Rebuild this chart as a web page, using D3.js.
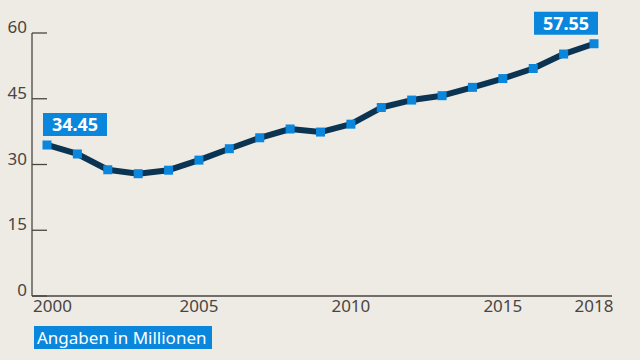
<!DOCTYPE html>
<html>
<head>
<meta charset="utf-8">
<title>Angaben in Millionen</title>
<script src="https://d3js.org/d3.v7.min.js"></script>
<style>
  body { margin: 0; background: #eeebe5; }
  svg { display: block; font-family: "Noto Sans", "DejaVu Sans", sans-serif; }
</style>
</head>
<body>
<div class="box"></div>
<script>
var years = [2000, 2001, 2002, 2003, 2004, 2005, 2006, 2007, 2008, 2009,
             2010, 2011, 2012, 2013, 2014, 2015, 2016, 2017, 2018];
var values = [34.45, 32.4, 28.8, 27.9, 28.7, 31.0, 33.6, 36.1, 38.1, 37.4,
              39.2, 43.0, 44.7, 45.7, 47.6, 49.6, 51.9, 55.2, 57.55];
var yTicks = [0, 15, 30, 45, 60];
var xTicks = [2000, 2005, 2010, 2015, 2018];
var caption = "Angaben in Millionen";

var width = 640, height = 360;
var blue = "#0a87dc";
var navy = "#0b3452";
var ink = "#4a4541";

var x = d3.scaleLinear().domain([2000, 2018]).range([47, 594]);
var y = d3.scaleLinear().domain([0, 60]).range([296, 33]);

var svg = d3.select("div.box").append("svg")
    .attr("width", width)
    .attr("height", height);

// y axis: vertical line + short ticks, labels sit on top-left of tick
svg.append("line")
    .attr("x1", 32).attr("x2", 32)
    .attr("y1", y(60)).attr("y2", y(0))
    .attr("stroke", ink).attr("stroke-width", 1.3);

var yt = svg.selectAll("g.ytick").data(yTicks).enter().append("g")
    .attr("class", "ytick")
    .attr("transform", function(d) { return "translate(0," + y(d) + ")"; });
yt.append("line")
    .attr("x1", 32).attr("x2", 47)
    .attr("stroke", ink).attr("stroke-width", 1.3);
yt.append("text")
    .attr("x", 27).attr("y", 0)
    .attr("text-anchor", "end")
    .attr("font-size", 17)
    .attr("fill", ink)
    .text(function(d) { return d; });

// x axis baseline
svg.append("line")
    .attr("x1", 32).attr("x2", 612)
    .attr("y1", y(0)).attr("y2", y(0))
    .attr("stroke", ink).attr("stroke-width", 1.3);

svg.selectAll("text.xtick").data(xTicks).enter().append("text")
    .attr("class", "xtick")
    .attr("x", function(d, i) { return i === 0 ? 33 : x(d); })
    .attr("y", 312)
    .attr("text-anchor", function(d, i) { return i === 0 ? "start" : "middle"; })
    .attr("font-size", 17)
    .attr("fill", ink)
    .text(function(d) { return d; });

// line
var line = d3.line()
    .x(function(d, i) { return x(years[i]); })
    .y(function(d) { return y(d); });

svg.append("path")
    .datum(values)
    .attr("d", line)
    .attr("fill", "none")
    .attr("stroke", navy)
    .attr("stroke-width", 6)
    .attr("stroke-linejoin", "round");

svg.selectAll("rect.pt").data(values).enter().append("rect")
    .attr("class", "pt")
    .attr("x", function(d, i) { return x(years[i]) - 4.5; })
    .attr("y", function(d) { return y(d) - 4.5; })
    .attr("width", 9).attr("height", 9)
    .attr("fill", blue);

// value labels for first and last point
function valueLabel(i, dx) {
    var g = svg.append("g")
        .attr("transform", "translate(" + (x(years[i]) + dx) + "," + (y(values[i]) - 20) + ")");
    g.append("rect")
        .attr("x", -32).attr("y", -12)
        .attr("width", 64).attr("height", 23)
        .attr("fill", blue);
    g.append("text")
        .attr("x", 0).attr("y", 6.5)
        .attr("text-anchor", "middle")
        .attr("font-size", 18)
        .attr("font-weight", "bold")
        .attr("fill", "#fff")
        .text(values[i].toFixed(2));
}
valueLabel(0, 28);
valueLabel(values.length - 1, -28);

// caption box
var cap = svg.append("g").attr("transform", "translate(34,326)");
cap.append("rect")
    .attr("width", 178).attr("height", 23)
    .attr("fill", blue);
cap.append("text")
    .attr("x", 3).attr("y", 17.5)
    .attr("font-size", 17)
    .attr("fill", "#fff")
    .text(caption);
</script>
</body>
</html>
